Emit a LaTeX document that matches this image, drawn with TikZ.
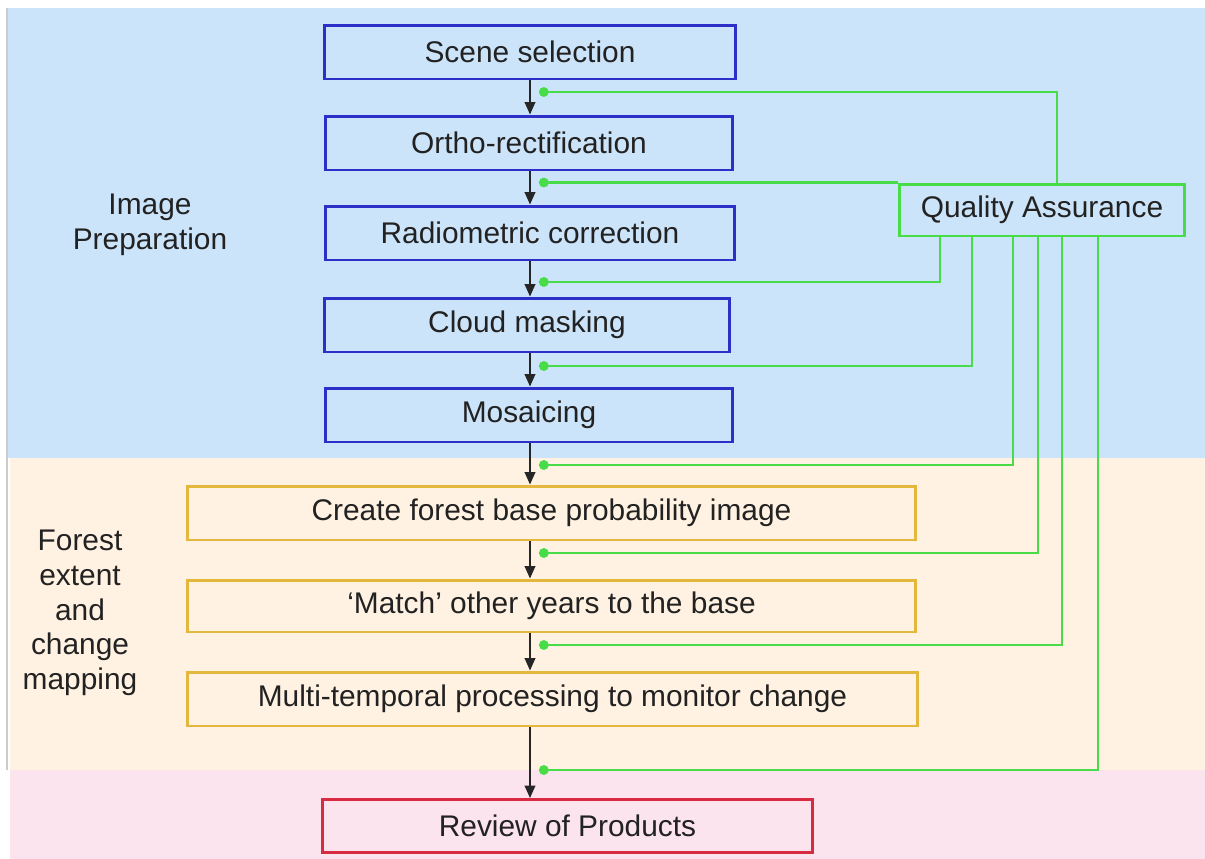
\documentclass[tikz,border=0pt]{standalone}
\usepackage{fontspec}
\setmainfont{Liberation Sans}
\usetikzlibrary{arrows.meta}
\definecolor{bgblue}{HTML}{CCE4FA}
\definecolor{bgorange}{HTML}{FFF2E2}
\definecolor{bgpink}{HTML}{FCE4EE}
\definecolor{bblue}{HTML}{2E2EC8}
\definecolor{borange}{HTML}{E4B83C}
\definecolor{bred}{HTML}{D82A40}
\definecolor{qgreen}{HTML}{48DC48}
\definecolor{txt}{HTML}{222222}
\begin{document}
\begin{tikzpicture}[x=0.02cm,y=-0.02cm,
  font=\fontsize{17}{19.8}\selectfont,
  box/.style={draw, line width=1.7pt, inner sep=0pt, text=txt, minimum height=1.08cm},
  bluebox/.style={box, draw=bblue},
  orbox/.style={box, draw=borange},
  redbox/.style={box, draw=bred},
  qabox/.style={box, draw=qgreen, minimum height=1.04cm},
  arr/.style={-{Triangle[length=7pt,width=6pt]}, line width=1pt, draw=black!85},
  qaline/.style={draw=qgreen, line width=1.6pt, -{Circle[length=5.5pt]}},
  lab/.style={align=center, text=txt}]
\useasboundingbox (0,0) rectangle (1205,859);
% background bands
\fill[bgblue] (8,8) rectangle (1205,458);
\fill[bgorange] (10,458) rectangle (1205,770);
\fill[bgpink] (10,770) rectangle (1205,859);
\draw[black!20, line width=0.6pt] (7,8) -- (7,770);
% labels
\node[lab] (lab1) at (150,225) {Image\\Preparation};
\node[lab] (lab2) at (80,613) {Forest\\extent\\and\\change\\mapping};
% main boxes
\node[bluebox, minimum width=8.22cm] (scene) at (530,52) {Scene selection};
\node[bluebox, minimum width=8.16cm] (ortho) at (529,143) {Ortho-rectification};
\node[bluebox, minimum width=8.2cm] (radio) at (530,233) {Radiometric correction};
\node[bluebox, minimum width=8.1cm] (cloud) at (527,325) {Cloud masking};
\node[bluebox, minimum width=8.16cm] (mosaic) at (529,415) {Mosaicing};
\node[orbox, minimum width=14.58cm] (create) at (551.5,513) {Create forest base probability image};
\node[orbox, minimum width=14.58cm, minimum height=1.04cm] (match) at (551.5,606) {‘Match’ other years to the base};
\node[orbox, minimum width=14.62cm] (multi) at (552.5,699) {Multi-temporal processing to monitor change};
\node[redbox, minimum width=9.82cm, minimum height=1.06cm] (review) at (567.5,826) {Review of Products};
\node[qabox, minimum width=5.7cm] (qa) at (1042,210) {Quality Assurance};
% arrow x coordinate
\coordinate (xa) at (530,0);
\draw[arr] (scene.south -| xa) -- (ortho.north -| xa);
\draw[arr] (ortho.south -| xa) -- (radio.north -| xa);
\draw[arr] (radio.south -| xa) -- (cloud.north -| xa);
\draw[arr] (cloud.south -| xa) -- (mosaic.north -| xa);
\draw[arr] (mosaic.south -| xa) -- (create.north -| xa);
\draw[arr] (create.south -| xa) -- (match.north -| xa);
\draw[arr] (match.south -| xa) -- (multi.north -| xa);
\draw[arr] (multi.south -| xa) -- (review.north -| xa);
% QA feedback lines
\coordinate (d1) at (539,92);
\coordinate (d2) at (539,184);
\coordinate (d3) at (539,282);
\coordinate (d4) at (539,366);
\coordinate (d5) at (539,465);
\coordinate (d6) at (539,553);
\coordinate (d7) at (539,645);
\coordinate (d8) at (539,770);
\coordinate (v1) at (1057,0);
\coordinate (v3) at (940,0);
\coordinate (v4) at (972,0);
\coordinate (v5) at (1013,0);
\coordinate (v6) at (1038,0);
\coordinate (v7) at (1062,0);
\coordinate (v8) at (1098,0);
\draw[qaline] (qa.north -| v1) |- (d1);
\draw[qaline] (qa.north west) -- (qa.north west -| d2);
\draw[qaline] (qa.south -| v3) |- (d3);
\draw[qaline] (qa.south -| v4) |- (d4);
\draw[qaline] (qa.south -| v5) |- (d5);
\draw[qaline] (qa.south -| v6) |- (d6);
\draw[qaline] (qa.south -| v7) |- (d7);
\draw[qaline] (qa.south -| v8) |- (d8);
\end{tikzpicture}
\end{document}
